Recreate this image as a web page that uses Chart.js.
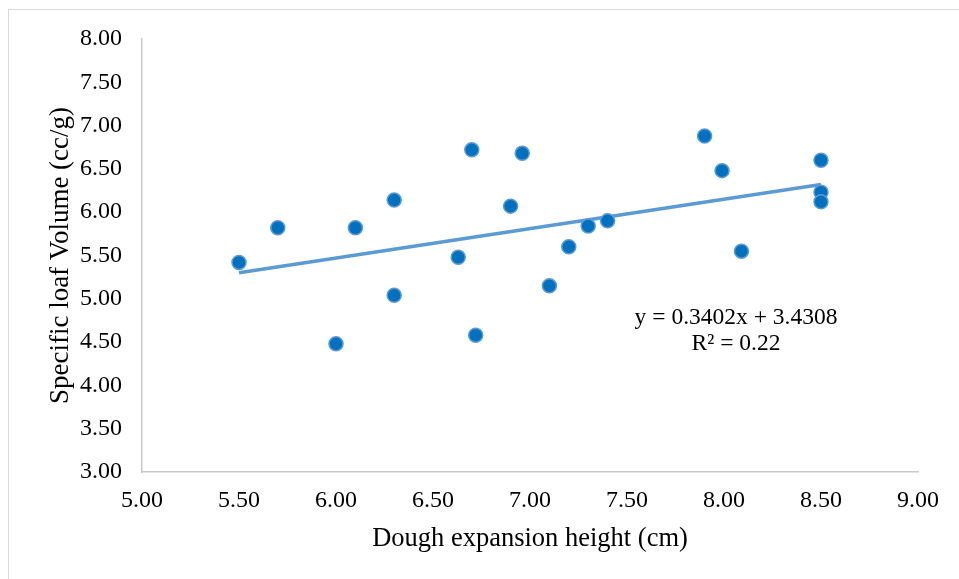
<!DOCTYPE html>
<html>
<head>
<meta charset="utf-8">
<script src="https://cdn.jsdelivr.net/npm/chart.js@4.4.1/dist/chart.umd.min.js"></script>
<style>
  html, body { margin: 0; padding: 0; background: #fff; }
  #wrap { position: relative; width: 959px; height: 579px; overflow: hidden; }
  #frame { position: absolute; left: 8px; top: 9px; width: 980px; height: 620px; border: 1.5px solid #d9d9d9; box-sizing: border-box; pointer-events: none; }
  canvas { position: absolute; left: 0; top: 0; }
</style>
</head>
<body>
<div id="wrap">
  <canvas id="c" width="959" height="579"></canvas>
  <div id="frame"></div>
</div>
<script>
// Dough expansion height (cm)
const xValues = [5.50, 5.70, 6.00, 6.10, 6.30, 6.30, 6.63, 6.70, 6.72, 6.90, 6.96, 7.10, 7.20, 7.30, 7.40, 7.90, 7.99, 8.09, 8.50, 8.50, 8.50];
// Specific loaf volume (cc/g)
const yValues = [5.42, 5.82, 4.48, 5.82, 6.14, 5.04, 5.48, 6.72, 4.58, 6.07, 6.68, 5.15, 5.60, 5.84, 5.90, 6.88, 6.48, 5.55, 6.60, 6.23, 6.12];
// Trend line endpoints as drawn
const trendX = [5.50, 8.50];
const trendY = [5.30, 6.32];
const equationLines = ["y = 0.3402x + 3.4308", "R\u00B2 = 0.22"];
const xTitle = "Dough expansion height (cm)";
const yTitle = "Specific loaf Volume (cc/g)";

const points = xValues.map((x, i) => ({ x: x, y: yValues[i] }));
const trend = trendX.map((x, i) => ({ x: x, y: trendY[i] }));

const FONT = "'Liberation Serif', 'Times New Roman', serif";

const eqPlugin = {
  id: 'eq',
  afterDatasetsDraw(chart) {
    const ctx = chart.ctx;
    ctx.save();
    ctx.font = "23.5px " + FONT;
    ctx.fillStyle = "#000";
    ctx.textAlign = "center";
    ctx.textBaseline = "middle";
    ctx.fillText(equationLines[0], 736, 318);
    ctx.fillText(equationLines[1], 736, 344);
    ctx.restore();
  }
};

new Chart(document.getElementById('c'), {
  type: 'scatter',
  data: {
    datasets: [
      {
        label: 'Data',
        data: points,
        backgroundColor: '#0070C0',
        borderColor: '#5B9BD5',
        borderWidth: 1.5,
        pointRadius: 7,
        order: 1
      },
      {
        label: 'Linear',
        type: 'line',
        data: trend,
        borderColor: '#5B9BD5',
        borderWidth: 3.5,
        pointRadius: 0,
        fill: false,
        order: 2
      }
    ]
  },
  options: {
    responsive: false,
    animation: false,
    devicePixelRatio: 1,
    layout: { padding: { left: 0, right: 41, top: 39, bottom: 0 } },
    plugins: { legend: { display: false }, tooltip: { enabled: false } },
    scales: {
      x: {
        type: 'linear',
        min: 5, max: 9,
        afterFit(s) { s.height = 107; },
        ticks: {
          stepSize: 0.5,
          padding: 14,
          color: '#000',
          font: { family: FONT, size: 24 },
          callback: v => v.toFixed(2),
          maxRotation: 0
        },
        grid: { display: false, drawTicks: false },
        border: { display: true, color: '#c8c8c8', width: 1.5 },
        title: {
          display: true,
          text: xTitle,
          color: '#000',
          font: { family: FONT, size: 26.5 },
          padding: { top: 0, bottom: 24 }
        }
      },
      y: {
        type: 'linear',
        min: 3, max: 8,
        afterFit(s) { s.width = 142; },
        ticks: {
          stepSize: 0.5,
          padding: 20,
          color: '#000',
          font: { family: FONT, size: 24 },
          callback: v => v.toFixed(2)
        },
        grid: { display: false, drawTicks: false },
        border: { display: true, color: '#c8c8c8', width: 1.5 },
        title: {
          display: true,
          text: yTitle,
          color: '#000',
          font: { family: FONT, size: 27 },
          padding: { top: 45, bottom: 0 }
        }
      }
    }
  },
  plugins: [eqPlugin]
});
</script>
</body>
</html>
